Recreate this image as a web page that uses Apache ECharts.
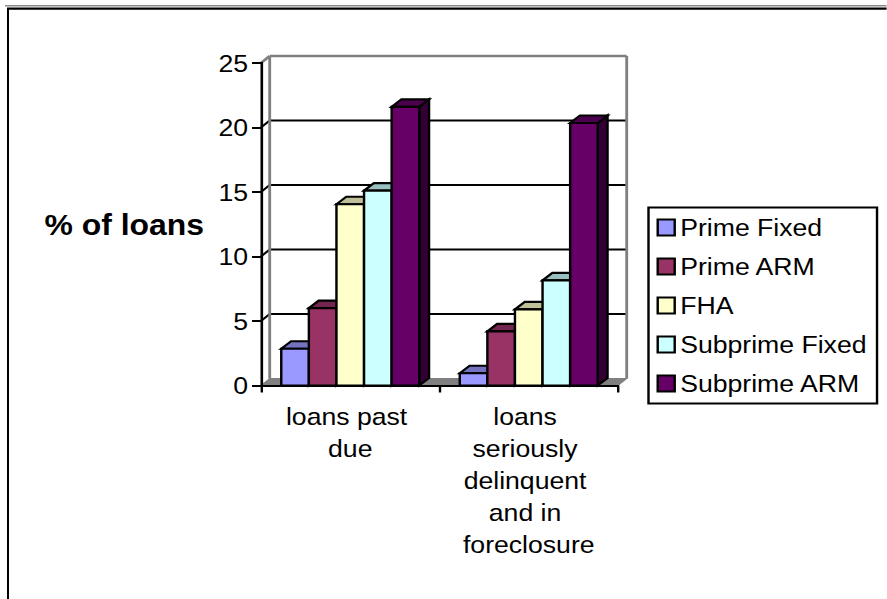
<!DOCTYPE html>
<html>
<head>
<meta charset="utf-8">
<title>Loan delinquency by loan type</title>
<script src="https://cdn.jsdelivr.net/npm/echarts@6/dist/echarts.min.js"></script>
<style>
  html, body { margin: 0; padding: 0; background: #fff; overflow: hidden; }
  #chart { position: absolute; left: 0; top: 0; height: 599px; transform-origin: 0 0; }
</style>
</head>
<body>
<div id="chart"></div>
<script>
// Data
const categories = ['loans past due', 'loans seriously delinquent and in foreclosure'];
const seriesNames = ['Prime Fixed', 'Prime ARM', 'FHA', 'Subprime Fixed', 'Subprime ARM'];
const primeFixed = [2.85, 0.95];
const primeArm = [6.0, 4.2];
const fha = [14.05, 5.9];
const subprimeFixed = [15.1, 8.15];
const subprimeArm = [21.6, 20.35];
const yTicks = [0, 5, 10, 15, 20, 25];

const seriesValues = [primeFixed, primeArm, fha, subprimeFixed, subprimeArm];
const seriesColors = ['#9999FF', '#993366', '#FFFFCC', '#CCFFFF', '#660066'];

// The drawing is laid out narrow and widened as a whole, so glyphs get the wide look.
const WIDEN = 1.1;
const wx = (px) => px / WIDEN;
const el = document.getElementById('chart');
el.style.width = wx(887) + 'px';
el.style.transform = 'scaleX(' + WIDEN + ')';

const FONT = '"Liberation Sans", Arial, sans-serif';
const LABEL_SIZE = 24.2;
const WALL_DX = wx(8.7);
const WALL_DY = 7;
const BAR_DX = wx(9.8);
const BAR_DY = 7.5;
const BAR_SHARE = 0.773;   // share of a category band taken by its five columns
const GREY = '#808080';

function shade(hex, f) {
  const n = parseInt(hex.slice(1), 16);
  const c = [(n >> 16) & 255, (n >> 8) & 255, n & 255].map((v) => Math.round(v * f));
  return 'rgb(' + c.join(',') + ')';
}

// Back wall, floor and gridlines, one data item per tick value
function renderWalls(params, api) {
  const v = api.value(1);
  const band = api.size([1, 0])[0];
  const p = api.coord([0, v]);
  const left = p[0] - band / 2;
  const right = api.coord([categories.length - 1, v])[0] + band / 2;
  const y = p[1];
  const children = [];
  const line = (x1, y1, x2, y2, stroke, w) => children.push({
    type: 'line',
    shape: { x1, y1, x2, y2 },
    style: { stroke, lineWidth: w }
  });
  if (v === yTicks[0]) {
    children.push({
      type: 'polygon',
      shape: { points: [[left, y], [left + WALL_DX, y - WALL_DY], [right + WALL_DX, y - WALL_DY], [right, y]] },
      style: { fill: GREY, stroke: GREY, lineWidth: 1 }
    });
  } else if (v === yTicks[yTicks.length - 1]) {
    const floorY = api.coord([0, yTicks[0]])[1] - WALL_DY;
    line(left + WALL_DX, y - WALL_DY, right + WALL_DX, y - WALL_DY, GREY, 2.6);
    line(left, y, left + WALL_DX, y - WALL_DY, GREY, 2.6);
    line(left + WALL_DX, y - WALL_DY, left + WALL_DX, floorY, GREY, 2.6);
    line(right + WALL_DX, y - WALL_DY, right + WALL_DX, floorY, GREY, 2.6);
  } else {
    line(left, y, left + WALL_DX, y - WALL_DY, '#000', 2);
    line(left + WALL_DX, y - WALL_DY, right + WALL_DX, y - WALL_DY, '#000', 2);
  }
  return { type: 'group', children };
}

// A column with its front, top and side faces
function columnRenderer(index) {
  return function (params, api) {
    const cat = api.value(0);
    const top = api.coord([cat, api.value(1)]);
    const base = api.coord([cat, 0]);
    const barW = api.size([1, 0])[0] * BAR_SHARE / seriesNames.length;
    const x0 = top[0] - barW * seriesNames.length / 2 + barW * index;
    const x1 = x0 + barW;
    const color = seriesColors[index];
    const edge = { stroke: '#000', lineWidth: 2.2, lineJoin: 'miter' };
    return {
      type: 'group',
      children: [
        {
          type: 'polygon',
          shape: { points: [[x1, top[1]], [x1 + BAR_DX, top[1] - BAR_DY], [x1 + BAR_DX, base[1] - BAR_DY], [x1, base[1]]] },
          style: Object.assign({ fill: shade(color, 0.5) }, edge)
        },
        {
          type: 'polygon',
          shape: { points: [[x0, top[1]], [x0 + BAR_DX, top[1] - BAR_DY], [x1 + BAR_DX, top[1] - BAR_DY], [x1, top[1]]] },
          style: Object.assign({ fill: shade(color, 0.75) }, edge)
        },
        {
          type: 'rect',
          shape: { x: x0, y: top[1], width: barW, height: base[1] - top[1] },
          style: Object.assign({ fill: color }, edge)
        }
      ]
    };
  };
}

const chart = echarts.init(el, null, { renderer: 'svg' });
chart.setOption({
  animation: false,
  backgroundColor: '#fff',
  textStyle: { fontFamily: FONT },
  grid: { left: wx(261), width: wx(357), top: 63, height: 322.5, containLabel: false },
  xAxis: {
    type: 'category',
    data: categories,
    z: 5,
    axisLine: { lineStyle: { color: '#000', width: 2 } },
    axisTick: { show: true, length: 7, lineStyle: { color: '#000', width: 2.2 } },
    splitLine: { show: false },
    axisLabel: {
      color: '#000', fontFamily: FONT, fontSize: LABEL_SIZE, lineHeight: 32, margin: 15,
      width: wx(150), overflow: 'break', interval: 0
    }
  },
  yAxis: {
    type: 'value',
    min: 0, max: 25, interval: 5,
    z: 5,
    name: '% of loans',
    nameLocation: 'middle',
    nameRotate: 0,
    nameGap: wx(57),
    nameTextStyle: { color: '#000', fontFamily: FONT, fontSize: 29, fontWeight: 'bold', padding: [4, 0, 0, 0] },
    axisLine: { show: true, lineStyle: { color: '#000', width: 2.4 } },
    axisTick: { show: true, length: wx(9), lineStyle: { color: '#000', width: 2 } },
    splitLine: { show: false },
    axisLabel: { color: '#000', fontFamily: FONT, fontSize: LABEL_SIZE, margin: wx(13) }
  },
  legend: {
    orient: 'vertical',
    left: wx(648.5),
    top: 207.5,
    data: seriesNames,
    selectedMode: false,
    icon: 'rect',
    itemWidth: wx(17),
    itemHeight: 16,
    itemGap: 15,
    padding: [8, wx(10.5), 8, wx(8)],
    backgroundColor: '#fff',
    borderColor: '#000',
    borderWidth: 2.2,
    itemStyle: { borderColor: '#000', borderWidth: 2.2 },
    textStyle: { color: '#000', fontFamily: FONT, fontSize: LABEL_SIZE }
  },
  graphic: [
    { type: 'rect', shape: { x: wx(5), y: 5, width: wx(882), height: 1.5 }, style: { fill: '#8a8a8a' }, silent: true },
    { type: 'rect', shape: { x: wx(7), y: 7.5, width: wx(880), height: 2.2 }, style: { fill: '#000' }, silent: true },
    { type: 'rect', shape: { x: wx(7), y: 8, width: wx(2), height: 591 }, style: { fill: '#000' }, silent: true }
  ],
  series: [
    {
      type: 'custom',
      name: 'walls',
      z: 1,
      silent: true,
      renderItem: renderWalls,
      data: yTicks.map((v) => [0, v])
    }
  ].concat(seriesNames.map((name, i) => ({
    type: 'custom',
    name,
    z: 3,
    silent: true,
    itemStyle: { color: seriesColors[i] },
    renderItem: columnRenderer(i),
    encode: { x: 0, y: 1 },
    data: seriesValues[i].map((v, c) => [c, v])
  })))
});
</script>
</body>
</html>
